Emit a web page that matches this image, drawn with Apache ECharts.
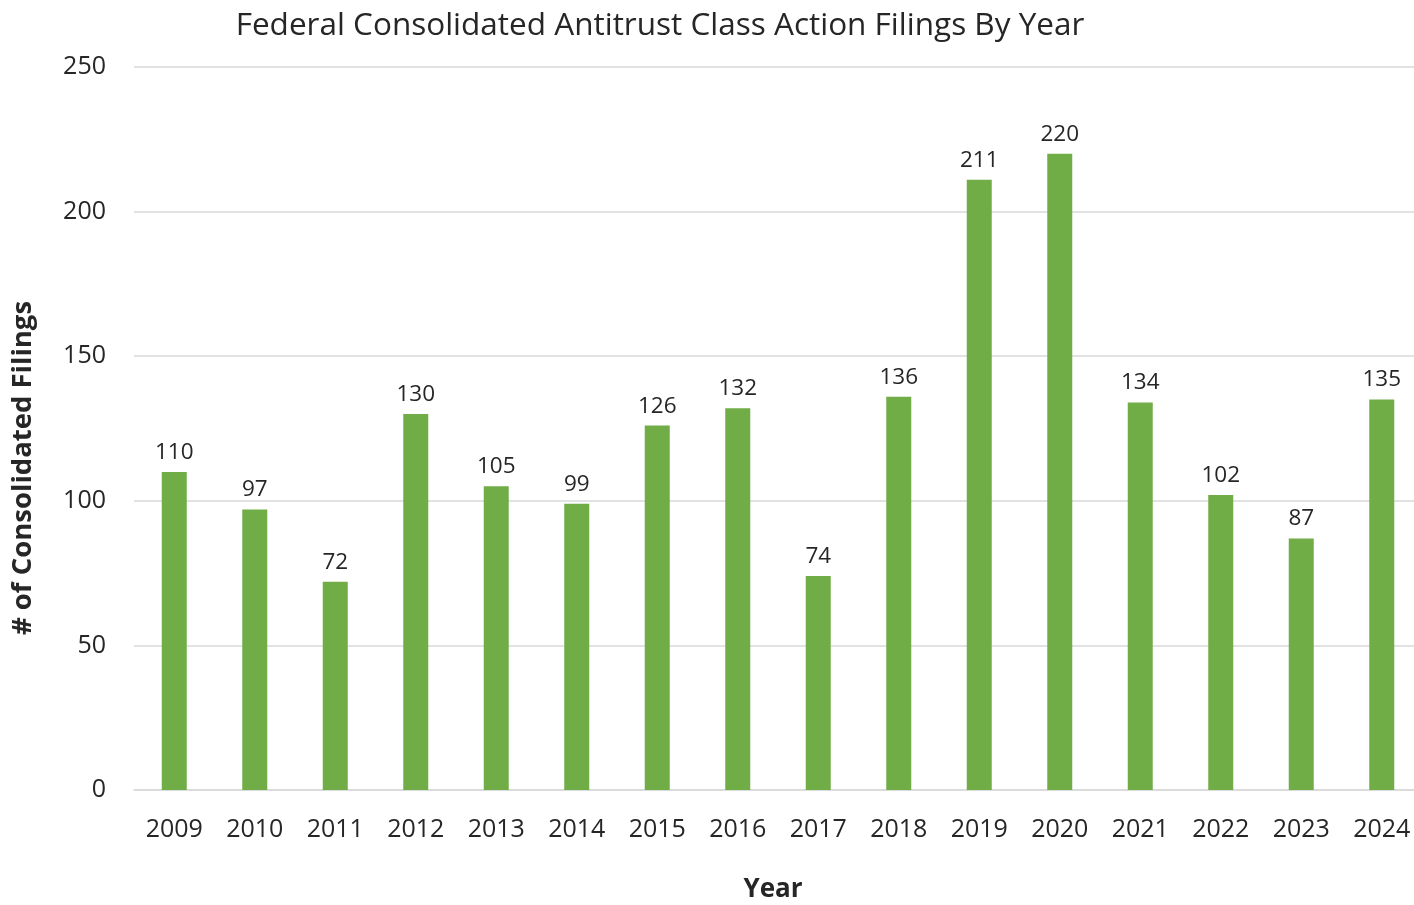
<!DOCTYPE html>
<html>
<head>
<meta charset="utf-8">
<title>Federal Consolidated Antitrust Class Action Filings By Year</title>
<script src="https://cdn.jsdelivr.net/npm/echarts@6/dist/echarts.min.js"></script>
<style>
  html, body { margin: 0; padding: 0; background: #fff; overflow: hidden; }
  #main { width: 1414px; height: 905px; }
</style>
</head>
<body>
<div id="main"></div>
<script>
// chart data
var years = ['2009', '2010', '2011', '2012', '2013', '2014', '2015', '2016',
  '2017', '2018', '2019', '2020', '2021', '2022', '2023', '2024'];
var filings = [110, 97, 72, 130, 105, 99, 126, 132, 74, 136, 211, 220, 134, 102, 87, 135];
var yTicks = [0, 50, 100, 150, 200, 250];

var font = '"Open Sans", sans-serif';
var textColor = '#262626';

var chart = echarts.init(document.getElementById('main'));

var option = {
  animation: false,
  title: {
    text: 'Federal Consolidated Antitrust Class Action Filings By Year',
    left: 655,
    textAlign: 'center',
    top: 5,
    textStyle: { fontFamily: font, fontSize: 31.5, fontWeight: 'normal', color: textColor }
  },
  // v6 shrinks the grid to fit labels unless told not to
  grid: { left: 134, top: 67, width: 1288, height: 723, containLabel: false, outerBoundsMode: 'none' },
  xAxis: {
    type: 'category',
    data: years,
    axisLine: { lineStyle: { color: '#d9d9d9', width: 1.5 } },
    axisTick: { show: false },
    axisLabel: { fontFamily: font, fontSize: 25, color: textColor, margin: 27 }
  },
  yAxis: {
    type: 'value',
    min: yTicks[0],
    max: yTicks[yTicks.length - 1],
    interval: 50,
    axisLine: { show: false },
    axisTick: { show: false },
    axisLabel: { fontFamily: font, fontSize: 25, color: textColor, margin: 28 },
    splitLine: { lineStyle: { color: '#d9d9d9', width: 1.5 } }
  },
  // axis titles placed by hand, as in the original
  graphic: [{
    type: 'text',
    x: 23,
    y: 468,
    rotation: Math.PI / 2,
    style: {
      text: '# of Consolidated Filings',
      font: 'bold 27.5px "Open Sans", sans-serif',
      fill: textColor,
      align: 'center',
      verticalAlign: 'middle'
    }
  }, {
    type: 'text',
    x: 773,
    y: 890,
    style: {
      text: 'Year',
      font: 'bold 26px "Open Sans", sans-serif',
      fill: textColor,
      align: 'center',
      verticalAlign: 'middle'
    }
  }],
  series: [{
    type: 'bar',
    data: filings,
    barWidth: 25,
    itemStyle: { color: '#70ad47' },
    label: {
      show: true,
      position: 'top',
      distance: 8,
      fontFamily: font,
      fontSize: 22.5,
      color: textColor
    }
  }]
};

chart.setOption(option);
</script>
</body>
</html>
